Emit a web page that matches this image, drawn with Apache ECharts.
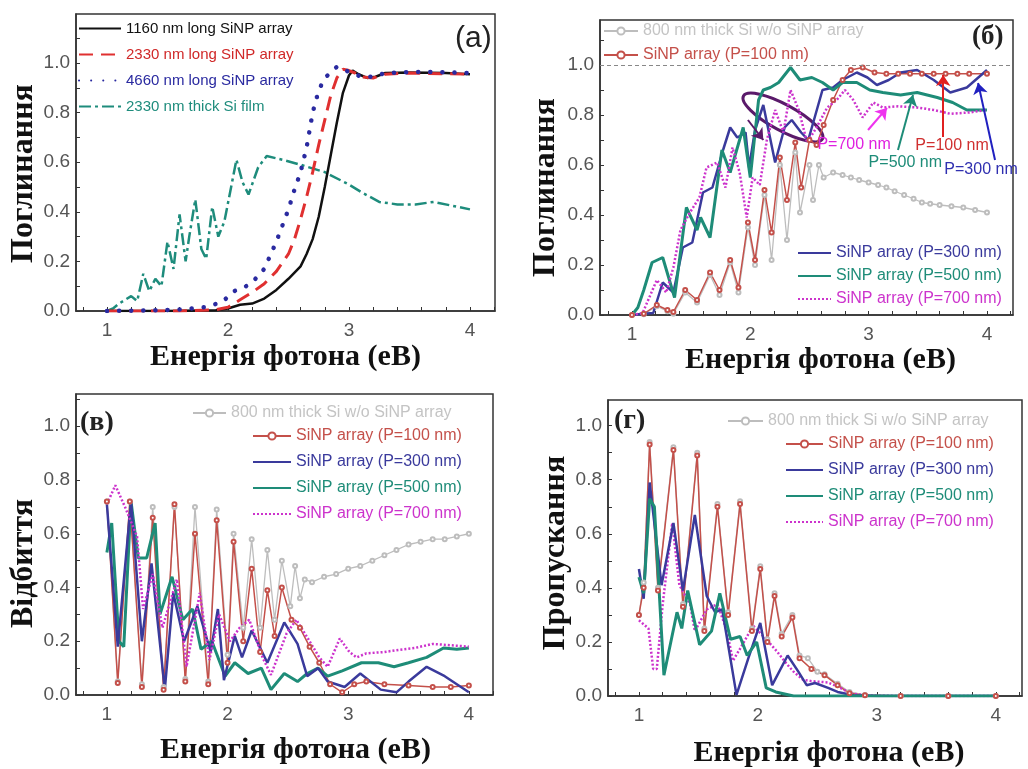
<!DOCTYPE html>
<html>
<head>
<meta charset="utf-8">
<script src="https://cdn.jsdelivr.net/npm/echarts@6/dist/echarts.min.js"></script>
<style>
  html, body { margin: 0; padding: 0; background: #fff; }
  #chart { width: 1028px; height: 769px; }
</style>
</head>
<body>
<div id="chart"></div>
<script>
// tick values / labels
const xLabelValues = [1, 2, 3, 4]
const xTickValues = [0.8, 1, 1.2, 1.4, 1.6, 1.8, 2, 2.2, 2.4, 2.6, 2.8, 3, 3.2, 3.4, 3.6, 3.8, 4, 4.2]
const yLabelValues = [0, 0.2, 0.4, 0.6, 0.8, 1.0]
const yTickValues = [0, 0.1, 0.2, 0.3, 0.4, 0.5, 0.6, 0.7, 0.8, 0.9, 1.0, 1.1]

// panel (a) - Поглинання, nanopillar length
const aBlack = [[1.0, 0], [1.5, 0], [1.9, 0.003], [2.0, 0.01], [2.1, 0.025], [2.2, 0.03], [2.3, 0.05], [2.4, 0.085], [2.5, 0.13], [2.6, 0.18], [2.65, 0.23], [2.7, 0.29], [2.75, 0.38], [2.8, 0.5], [2.85, 0.63], [2.9, 0.76], [2.95, 0.88], [3.0, 0.95], [3.03, 0.97], [3.08, 0.955], [3.15, 0.94], [3.22, 0.945], [3.3, 0.96], [3.5, 0.962], [3.8, 0.96], [4.0, 0.955]]
const aRed = [[1.0, 0], [1.6, 0], [1.9, 0.005], [2.0, 0.015], [2.1, 0.045], [2.2, 0.075], [2.3, 0.11], [2.4, 0.16], [2.5, 0.23], [2.55, 0.29], [2.6, 0.37], [2.65, 0.46], [2.7, 0.56], [2.75, 0.67], [2.8, 0.77], [2.85, 0.87], [2.9, 0.94], [2.95, 0.975], [3.0, 0.97], [3.05, 0.96], [3.1, 0.945], [3.2, 0.94], [3.3, 0.955], [3.5, 0.96], [4.0, 0.955]]
const aBlue = [[1.0, 0], [1.4, 0.003], [1.6, 0.006], [1.8, 0.015], [1.95, 0.035], [2.05, 0.08], [2.15, 0.1], [2.2, 0.115], [2.3, 0.17], [2.4, 0.28], [2.5, 0.41], [2.55, 0.49], [2.6, 0.56], [2.65, 0.66], [2.7, 0.8], [2.75, 0.89], [2.8, 0.94], [2.9, 0.985], [3.0, 0.965], [3.1, 0.945], [3.2, 0.945], [3.3, 0.96], [3.6, 0.965], [4.0, 0.96]]
const aTeal = [[1.0, 0.0], [1.05, 0.01], [1.1, 0.03], [1.15, 0.045], [1.2, 0.06], [1.25, 0.04], [1.3, 0.15], [1.35, 0.08], [1.4, 0.13], [1.45, 0.1], [1.5, 0.28], [1.55, 0.17], [1.6, 0.39], [1.65, 0.2], [1.68, 0.3], [1.73, 0.45], [1.78, 0.25], [1.82, 0.21], [1.87, 0.42], [1.92, 0.3], [1.97, 0.36], [2.07, 0.61], [2.12, 0.52], [2.17, 0.47], [2.25, 0.58], [2.32, 0.625], [2.45, 0.61], [2.6, 0.59], [2.8, 0.56], [3.0, 0.51], [3.1, 0.48], [3.25, 0.44], [3.4, 0.43], [3.55, 0.43], [3.7, 0.44], [3.85, 0.425], [4.0, 0.41]]

// panel (б) - Поглинання, period
const bGray = [[1.0, 0], [1.1, 0.003], [1.21, 0.035], [1.3, 0.015], [1.35, 0.005], [1.45, 0.09], [1.55, 0.05], [1.66, 0.16], [1.74, 0.08], [1.83, 0.21], [1.9, 0.09], [1.98, 0.35], [2.04, 0.2], [2.12, 0.48], [2.18, 0.22], [2.25, 0.6], [2.31, 0.3], [2.38, 0.65], [2.42, 0.41], [2.5, 0.6], [2.53, 0.46], [2.58, 0.6], [2.62, 0.55], [2.7, 0.57], [2.78, 0.56], [2.85, 0.55], [2.92, 0.54], [3.0, 0.53], [3.08, 0.52], [3.15, 0.51], [3.22, 0.495], [3.3, 0.48], [3.38, 0.465], [3.45, 0.45], [3.52, 0.445], [3.6, 0.44], [3.7, 0.435], [3.8, 0.43], [3.9, 0.42], [4.0, 0.41]]
const bRed = [[1.0, 0], [1.1, 0.005], [1.21, 0.04], [1.3, 0.02], [1.35, 0.012], [1.45, 0.1], [1.55, 0.06], [1.66, 0.17], [1.74, 0.1], [1.83, 0.22], [1.9, 0.11], [1.98, 0.37], [2.04, 0.22], [2.12, 0.5], [2.18, 0.33], [2.25, 0.63], [2.31, 0.46], [2.38, 0.69], [2.43, 0.51], [2.5, 0.7], [2.56, 0.68], [2.62, 0.76], [2.7, 0.86], [2.78, 0.94], [2.85, 0.98], [2.95, 0.99], [3.05, 0.97], [3.15, 0.965], [3.25, 0.965], [3.35, 0.965], [3.45, 0.965], [3.55, 0.965], [3.65, 0.965], [3.75, 0.965], [3.85, 0.965], [4.0, 0.965]]
const bBlue = [[1.0, 0], [1.1, 0.005], [1.18, 0.008], [1.26, 0.13], [1.35, 0.09], [1.43, 0.27], [1.51, 0.29], [1.6, 0.49], [1.68, 0.51], [1.77, 0.66], [1.83, 0.75], [1.89, 0.71], [1.96, 0.73], [1.99, 0.59], [2.04, 0.74], [2.11, 0.84], [2.21, 0.61], [2.29, 0.75], [2.35, 0.78], [2.43, 0.73], [2.49, 0.7], [2.61, 0.9], [2.7, 0.91], [2.78, 0.94], [2.9, 0.97], [2.99, 0.95], [3.07, 0.92], [3.17, 0.94], [3.27, 0.97], [3.41, 0.98], [3.55, 0.94], [3.69, 0.89], [3.83, 0.91], [4.0, 0.98]]
const bTeal = [[1.0, 0], [1.05, 0.03], [1.1, 0.1], [1.17, 0.21], [1.26, 0.23], [1.36, 0.07], [1.46, 0.43], [1.55, 0.34], [1.58, 0.39], [1.66, 0.31], [1.76, 0.66], [1.83, 0.57], [1.94, 0.75], [2.0, 0.55], [2.07, 0.86], [2.11, 0.9], [2.17, 0.91], [2.24, 0.93], [2.34, 0.99], [2.42, 0.94], [2.52, 0.95], [2.61, 0.93], [2.7, 0.9], [2.78, 0.93], [2.9, 0.93], [3.01, 0.9], [3.12, 0.89], [3.27, 0.88], [3.41, 0.89], [3.58, 0.87], [3.71, 0.85], [3.83, 0.82], [4.0, 0.82]]
const bMagenta = [[1.0, 0], [1.09, 0.008], [1.21, 0.14], [1.29, 0.09], [1.35, 0.19], [1.41, 0.34], [1.49, 0.41], [1.57, 0.47], [1.63, 0.59], [1.72, 0.61], [1.79, 0.51], [1.85, 0.67], [1.91, 0.57], [1.97, 0.39], [2.02, 0.55], [2.08, 0.52], [2.14, 0.7], [2.21, 0.82], [2.28, 0.73], [2.34, 0.9], [2.41, 0.82], [2.48, 0.69], [2.56, 0.75], [2.65, 0.83], [2.73, 0.86], [2.8, 0.9], [2.87, 0.86], [2.95, 0.79], [3.04, 0.85], [3.12, 0.83], [3.25, 0.835], [3.41, 0.83], [3.55, 0.82], [3.69, 0.805], [3.85, 0.81], [4.0, 0.82]]

// panel (в) - Відбиття
const cGray = [[1.0, 0.72], [1.09, 0.05], [1.19, 0.72], [1.29, 0.04], [1.38, 0.7], [1.47, 0.03], [1.56, 0.7], [1.65, 0.06], [1.73, 0.7], [1.84, 0.05], [1.91, 0.69], [2.0, 0.15], [2.05, 0.6], [2.13, 0.25], [2.2, 0.58], [2.27, 0.25], [2.33, 0.54], [2.39, 0.28], [2.45, 0.5], [2.52, 0.33], [2.56, 0.48], [2.6, 0.36], [2.64, 0.43], [2.7, 0.42], [2.8, 0.44], [2.9, 0.45], [3.0, 0.47], [3.1, 0.48], [3.2, 0.5], [3.3, 0.52], [3.4, 0.54], [3.5, 0.56], [3.6, 0.57], [3.7, 0.58], [3.8, 0.58], [3.9, 0.59], [4.0, 0.6]]
const cRed = [[1.0, 0.72], [1.09, 0.045], [1.19, 0.72], [1.29, 0.03], [1.38, 0.66], [1.47, 0.02], [1.56, 0.71], [1.65, 0.05], [1.73, 0.6], [1.84, 0.04], [1.91, 0.65], [2.0, 0.12], [2.05, 0.57], [2.13, 0.2], [2.2, 0.47], [2.27, 0.16], [2.33, 0.39], [2.39, 0.22], [2.45, 0.4], [2.53, 0.28], [2.6, 0.25], [2.68, 0.18], [2.76, 0.12], [2.85, 0.04], [2.95, 0.01], [3.05, 0.04], [3.15, 0.05], [3.3, 0.04], [3.5, 0.035], [3.7, 0.03], [3.85, 0.03], [4.0, 0.035]]
const cBlue = [[1.0, 0.71], [1.09, 0.18], [1.2, 0.72], [1.29, 0.2], [1.37, 0.49], [1.48, 0.02], [1.55, 0.38], [1.64, 0.2], [1.75, 0.33], [1.86, 0.16], [1.92, 0.32], [1.97, 0.055], [2.06, 0.22], [2.12, 0.14], [2.2, 0.24], [2.33, 0.12], [2.47, 0.27], [2.58, 0.19], [2.66, 0.07], [2.75, 0.1], [2.83, 0.05], [2.97, 0.03], [3.1, 0.08], [3.27, 0.02], [3.4, 0.01], [3.5, 0.05], [3.65, 0.105], [3.8, 0.07], [3.9, 0.04], [4.0, 0.01]]
const cTeal = [[1.0, 0.53], [1.04, 0.64], [1.1, 0.2], [1.14, 0.18], [1.2, 0.72], [1.26, 0.51], [1.33, 0.51], [1.4, 0.64], [1.44, 0.3], [1.54, 0.44], [1.63, 0.28], [1.71, 0.32], [1.78, 0.17], [1.87, 0.2], [1.98, 0.07], [2.06, 0.12], [2.17, 0.08], [2.28, 0.1], [2.36, 0.02], [2.47, 0.08], [2.58, 0.05], [2.66, 0.08], [2.75, 0.1], [2.83, 0.07], [2.95, 0.09], [3.11, 0.12], [3.25, 0.12], [3.38, 0.105], [3.5, 0.12], [3.65, 0.14], [3.79, 0.175], [3.9, 0.17], [4.0, 0.175]]
const cMagenta = [[1.0, 0.71], [1.07, 0.78], [1.15, 0.7], [1.25, 0.59], [1.3, 0.32], [1.38, 0.45], [1.46, 0.25], [1.58, 0.43], [1.66, 0.105], [1.77, 0.38], [1.85, 0.13], [1.93, 0.3], [2.02, 0.2], [2.1, 0.25], [2.18, 0.28], [2.29, 0.14], [2.36, 0.075], [2.49, 0.23], [2.57, 0.28], [2.68, 0.2], [2.76, 0.14], [2.83, 0.105], [2.93, 0.21], [3.01, 0.16], [3.07, 0.14], [3.15, 0.155], [3.3, 0.16], [3.42, 0.168], [3.55, 0.175], [3.7, 0.19], [3.85, 0.185], [4.0, 0.18]]

// panel (г) - Пропускання
const dGray = [[1.0, 0.3], [1.04, 0.42], [1.09, 0.94], [1.16, 0.4], [1.29, 0.92], [1.37, 0.34], [1.49, 0.9], [1.55, 0.25], [1.66, 0.71], [1.75, 0.31], [1.85, 0.72], [1.95, 0.25], [2.02, 0.48], [2.08, 0.21], [2.14, 0.38], [2.2, 0.23], [2.29, 0.3], [2.35, 0.15], [2.42, 0.14], [2.5, 0.09], [2.56, 0.08], [2.67, 0.045], [2.77, 0.015], [2.9, 0.004], [3.2, 0], [3.6, 0], [4.0, 0]]
const dRed = [[1.0, 0.3], [1.04, 0.4], [1.09, 0.93], [1.16, 0.39], [1.29, 0.91], [1.37, 0.33], [1.49, 0.89], [1.55, 0.24], [1.66, 0.7], [1.75, 0.3], [1.85, 0.71], [1.95, 0.24], [2.02, 0.47], [2.08, 0.2], [2.14, 0.37], [2.2, 0.22], [2.29, 0.29], [2.35, 0.14], [2.45, 0.1], [2.56, 0.077], [2.67, 0.04], [2.77, 0.01], [2.9, 0.003], [3.2, 0], [3.6, 0], [4.0, 0]]
const dBlue = [[1.0, 0.47], [1.04, 0.36], [1.09, 0.79], [1.19, 0.41], [1.29, 0.64], [1.37, 0.39], [1.47, 0.67], [1.57, 0.37], [1.64, 0.31], [1.7, 0.32], [1.82, 0.004], [1.92, 0.14], [2.02, 0.27], [2.12, 0.04], [2.25, 0.15], [2.34, 0.09], [2.41, 0.04], [2.48, 0.048], [2.59, 0.03], [2.67, 0.015], [2.8, 0.003], [3.0, 0], [3.5, 0], [4.0, 0]]
const dTeal = [[1.0, 0.44], [1.04, 0.38], [1.09, 0.73], [1.13, 0.7], [1.21, 0.077], [1.32, 0.31], [1.36, 0.25], [1.41, 0.39], [1.51, 0.19], [1.61, 0.24], [1.68, 0.38], [1.77, 0.21], [1.85, 0.22], [1.91, 0.15], [1.99, 0.2], [2.07, 0.03], [2.15, 0.015], [2.3, 0], [2.6, 0], [3.0, 0], [4.0, 0]]
const dMagenta = [[1.0, 0.28], [1.08, 0.25], [1.12, 0.1], [1.15, 0.1], [1.2, 0.34], [1.28, 0.64], [1.34, 0.41], [1.43, 0.34], [1.47, 0.24], [1.57, 0.32], [1.66, 0.34], [1.74, 0.24], [1.79, 0.13], [1.87, 0.19], [1.96, 0.26], [2.07, 0.21], [2.16, 0.165], [2.24, 0.12], [2.3, 0.09], [2.38, 0.06], [2.45, 0.055], [2.59, 0.05], [2.67, 0.035], [2.78, 0.01], [2.9, 0.002], [3.2, 0], [4.0, 0]]

// annotations of panel (б), in data units
const arrowsB = [
  { from: [2.995, 0.74], to: [3.155, 0.828], color: '#ee33ee' },
  { from: [3.63, 0.712], to: [3.63, 0.96], color: '#e02020' },
  { from: [3.248, 0.66], to: [3.375, 0.88], color: '#1e8c78' },
  { from: [4.068, 0.62], to: [3.925, 0.928], color: '#2020c0' },
  { from: [1.98, 0.78], to: [2.11, 0.7], color: '#5a1a6a' }
]
const labelsB = [
  { text: 'P=700 nm', at: [2.877, 0.68], color: '#e020e0' },
  { text: 'P=100 nm', at: [3.705, 0.676], color: '#d03030' },
  { text: 'P=500 nm', at: [3.31, 0.608], color: '#1e8c78' },
  { text: 'P=300 nm', at: [3.95, 0.58], color: '#3030b0' }
]
const loopCenterB = [2.276, 0.79]

const GRAY = '#bdbdbd'
const RED = '#c4504a'
const BLUE = '#3a3a9c'
const TEAL = '#1e8c78'
const MAG = '#cc33cc'
const N_GRAY = '800 nm thick Si w/o SiNP array'
const N100 = 'SiNP array (P=100 nm)'
const N300 = 'SiNP array (P=300 nm)'
const N500 = 'SiNP array (P=500 nm)'
const N700 = 'SiNP array (P=700 nm)'

const xTitle = 'Енергія фотона (еВ)'
const serif = "'Liberation Serif', 'DejaVu Serif', serif"
const sans = "'Liberation Sans', Arial, sans-serif"

function makeX(i, min, max, gap, shift) {
  return {
    gridIndex: i, type: 'value', min: min, max: max,
    name: xTitle, nameLocation: 'middle', nameGap: gap,
    nameTextStyle: { fontFamily: serif, fontWeight: 'bold', fontSize: 30, color: '#111', padding: [0, 0, 0, shift * 2] },
    axisLine: { onZero: false, lineStyle: { color: '#333', width: 1.5 } },
    axisTick: { inside: true, length: 4, customValues: xTickValues, lineStyle: { color: '#333' } },
    axisLabel: { customValues: xLabelValues, fontFamily: sans, fontSize: 19, color: '#555', margin: 10 },
    splitLine: { show: false }
  }
}
function makeY(i, max, title, gap, shift) {
  return {
    gridIndex: i, type: 'value', min: 0, max: max,
    name: title, nameLocation: 'middle', nameGap: gap, nameRotate: 90,
    nameTextStyle: { fontFamily: serif, fontWeight: 'bold', fontSize: 32, color: '#111', padding: [0, shift * 2, 0, 0] },
    axisLine: { onZero: false, lineStyle: { color: '#333', width: 1.5 } },
    axisTick: { inside: true, length: 4, customValues: yTickValues, lineStyle: { color: '#333' } },
    axisLabel: { customValues: yLabelValues, formatter: v => v.toFixed(1), fontFamily: sans, fontSize: 19, color: '#555', margin: 6 },
    splitLine: { show: false }
  }
}
function line(name, i, data, color, width, type, marker, cap) {
  return {
    type: 'line', name: name, xAxisIndex: i, yAxisIndex: i, data: data,
    symbol: marker ? 'emptyCircle' : 'none', symbolSize: 4, showAllSymbol: true,
    lineStyle: { color: color, width: width, type: type || 'solid', cap: cap || 'butt' },
    itemStyle: { color: color, borderWidth: 1 },
    silent: true
  }
}
// items: [name, text colour, has circle marker]
function legendBox(left, top, items, itemWidth, gap, size) {
  return {
    orient: 'vertical', left: left, top: top, itemWidth: itemWidth, itemHeight: 9, itemGap: gap, padding: 0,
    selectedMode: false, icon: 'inherit',
    textStyle: { fontFamily: sans, fontSize: size },
    data: items.map(it => ({
      name: it[0],
      textStyle: { color: it[1] },
      itemStyle: it[2] ? {} : { opacity: 0, color: 'transparent', borderColor: 'transparent' }
    }))
  }
}
function panelTag(text, left, top, font, weight, size) {
  return { text: text, left: left, top: top, padding: 0, textStyle: { fontFamily: font, fontWeight: weight, fontSize: size, color: '#222' } }
}

const seriesB = [
  line(N_GRAY, 1, bGray, GRAY, 1.3, 'solid', true),
  line(N100, 1, bRed, RED, 1.5, 'solid', true),
  line(N300, 1, bBlue, BLUE, 2.5),
  line(N500, 1, bTeal, TEAL, 3),
  line(N700, 1, bMagenta, MAG, 2.5, [2, 2])
]
seriesB[0].markLine = {
  silent: true, symbol: 'none', label: { show: false },
  lineStyle: { color: '#888', type: [4, 3], width: 1.2 },
  data: [{ yAxis: 1.0 }]
}
seriesB[2].markLine = {
  silent: true, symbol: ['none', 'arrow'], symbolSize: 11, label: { show: false },
  data: arrowsB.map(a => [{ coord: a.from, lineStyle: { color: a.color, width: 2, type: 'solid' } }, { coord: a.to }])
}
seriesB[2].markPoint = {
  silent: true, symbol: 'rect', symbolSize: 1, itemStyle: { color: 'transparent' },
  data: labelsB.map(l => ({ coord: l.at, label: { show: true, formatter: l.text, color: l.color, fontFamily: sans, fontSize: 16, position: 'inside' } }))
}

const option = {
  animation: false,
  backgroundColor: '#fff',
  title: [
    panelTag('(a)', 455, 24, sans, 'normal', 30),
    panelTag('(б)', 972, 24, serif, 'bold', 27),
    panelTag('(в)', 80, 409, serif, 'bold', 28),
    panelTag('(г)', 614, 407, serif, 'bold', 28)
  ],
  grid: [
    { left: 76, top: 14, width: 419, height: 297, show: true, borderColor: '#333', borderWidth: 1.5 },
    { left: 600, top: 20, width: 413, height: 295, show: true, borderColor: '#333', borderWidth: 1.5 },
    { left: 76, top: 394, width: 417, height: 301, show: true, borderColor: '#333', borderWidth: 1.5 },
    { left: 608, top: 400, width: 414, height: 298, show: true, borderColor: '#333', borderWidth: 1.5 }
  ],
  xAxis: [
    makeX(0, 0.744, 4.207, 31, 0),
    makeX(1, 0.73, 4.22, 30, 14),
    makeX(2, 0.744, 4.2, 40, 11),
    makeX(3, 0.74, 4.22, 42, 14)
  ],
  yAxis: [
    makeY(0, 1.198, 'Поглинання', 34, 11),
    makeY(1, 1.18, 'Поглинання', 38, 20),
    makeY(2, 1.12, 'Відбиття', 32, 19),
    makeY(3, 1.095, 'Пропускання', 31, 5)
  ],
  legend: [
    legendBox(78, 21, [['1160 nm long SiNP array', '#111'], ['2330 nm long SiNP array', '#d02828'], ['4660 nm long SiNP array', '#2a2aa0'], ['2330 nm thick Si film', '#1e8c7c']], 42, 11, 15),
    legendBox(603, 23, [[N_GRAY, '#c4c4c4', true], [N100, RED, true]], 34, 8, 16),
    legendBox(797, 245, [[N300, BLUE], [N500, TEAL], [N700, MAG]], 33, 7, 16),
    legendBox(192, 405, [[N_GRAY, '#c4c4c4', true]], 33, 10, 16),
    legendBox(252, 428, [[N100, RED, true], [N300, BLUE], [N500, TEAL], [N700, MAG]], 38, 10, 16),
    legendBox(727, 413, [[N_GRAY, '#c4c4c4', true]], 35, 10, 16),
    legendBox(785, 436, [[N100, RED, true], [N300, BLUE], [N500, TEAL], [N700, MAG]], 37, 10, 16)
  ],
  series: [
    line('2330 nm thick Si film', 0, aTeal, '#1e8c7c', 2.5, [12, 4, 3, 4]),
    line('1160 nm long SiNP array', 0, aBlack, '#111', 2.5),
    line('2330 nm long SiNP array', 0, aRed, '#e03030', 3, [14, 8]),
    line('4660 nm long SiNP array', 0, aBlue, '#2a2aa0', 4.5, [0.1, 12], false, 'round'),

    ...seriesB,

    line(N_GRAY, 2, cGray, GRAY, 1.3, 'solid', true),
    line(N100, 2, cRed, RED, 1.5, 'solid', true),
    line(N500, 2, cTeal, TEAL, 3),
    line(N300, 2, cBlue, BLUE, 2.5),
    line(N700, 2, cMagenta, MAG, 2.5, [2, 2]),

    line(N_GRAY, 3, dGray, GRAY, 1.3, 'solid', true),
    line(N100, 3, dRed, RED, 1.5, 'solid', true),
    line(N700, 3, dMagenta, MAG, 2.5, [2, 2]),
    line(N300, 3, dBlue, BLUE, 2.5),
    line(N500, 3, dTeal, TEAL, 3)
  ]
}

const chart = echarts.init(document.getElementById('chart'), null, { renderer: 'canvas' })
chart.setOption(option)

// loop annotation around the crossing in panel (б)
const c = chart.convertToPixel({ gridIndex: 1 }, loopCenterB)
chart.setOption({
  graphic: [{
    type: 'ellipse', x: c[0], y: c[1], rotation: -0.5, silent: true,
    shape: { cx: 0, cy: 0, rx: 45, ry: 13 },
    style: { fill: 'none', stroke: '#5a1a6a', lineWidth: 3 }
  }]
})
</script>
</body>
</html>
